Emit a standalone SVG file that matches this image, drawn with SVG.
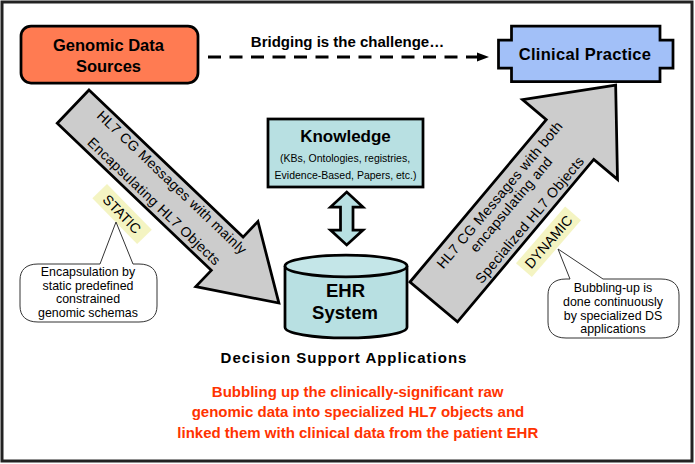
<svg xmlns="http://www.w3.org/2000/svg" width="695" height="464" viewBox="0 0 695 464">
<defs>
<style>
text{font-family:"Liberation Sans",Arial,sans-serif;fill:#000}
.b{font-weight:bold}
.mid{text-anchor:middle}
.shape{stroke:#000;stroke-width:2.75;stroke-linejoin:miter}
.teal{fill:#B8E0E2}
.big{fill:#CCCCCC;stroke:#000;stroke-width:2.75;stroke-linejoin:miter}
.arrowtxt{font-size:14px;letter-spacing:0.35px}
.tag{fill:#F4F4C2}
.call{fill:#fff;stroke:#333;stroke-width:1}
.calltxt{font-size:12.4px}
.red{fill:#FF3300;font-size:15px;font-weight:bold}
</style>
</defs>
<rect x="0" y="0" width="695" height="464" fill="#fff"/>
<rect x="2" y="2" width="690" height="459" fill="#fff" stroke="#222" stroke-width="3"/>

<g id="connectors">
<g id="bridge">
<line x1="208" y1="57" x2="477" y2="57" stroke="#000" stroke-width="2.8" stroke-dasharray="13 8.5"/>
<path d="M477,52.5 L489,57 L477,61.5 Z" fill="#000"/>
<text class="b mid" x="347.5" y="47" font-size="15">Bridging is the challenge…</text>
</g>
<g id="knowledge-ehr">
<path class="shape teal" d="M346.7,192 L363,207 L353,207 L353,230 L363,230 L346.7,245 L330.5,230 L340.5,230 L340.5,207 L330.5,207 Z"/>
</g>
<g id="arrow-static" transform="translate(89,90) rotate(43.67)">
<path class="big" d="M0,0 L213,0 L213,-21.5 L284.5,23 L213,68.5 L213,46 L0,46 Z"/>
<text class="arrowtxt mid" x="124" y="14.5">HL7 CG Messages with mainly</text>
<text class="arrowtxt mid" x="124" y="40.5">Encapsulating HL7 Objects</text>
</g>
<g id="arrow-dynamic" transform="translate(410,282) rotate(-50)">
<path class="big" d="M0,0 L212,0 L212,-31 L283,31 L212,93 L212,62 L0,62 Z"/>
<text class="arrowtxt mid" x="124.5" y="17.5">HL7 CG Messages with both</text>
<text class="arrowtxt mid" x="124.5" y="32.5">encapsulating and</text>
<text class="arrowtxt mid" x="124.5" y="56.5">Specialized HL7 Objects</text>
</g>
</g>

<g id="genomic">
<rect class="shape" x="21" y="26" width="177" height="57" rx="10" ry="10" fill="#FF7B52"/>
<text class="b mid" x="108.5" y="50.7" font-size="16.5">Genomic Data</text>
<text class="b mid" x="108.5" y="71.7" font-size="16.5">Sources</text>
</g>

<g id="clinical">
<path class="shape" fill="#A2C0F8" d="M511.5,26 L660,26 L660,40 L673,40 L673,68 L660,68 L660,81.5 L511.5,81.5 L511.5,68 L498.5,68 L498.5,40 L511.5,40 Z"/>
<text class="b mid" x="585" y="59.5" font-size="16.5" letter-spacing="0.3">Clinical Practice</text>
</g>

<g id="knowledge">
<rect class="shape teal" x="268" y="119" width="155" height="68"/>
<text class="b mid" x="345.5" y="141.7" font-size="17">Knowledge</text>
<text class="mid" x="345" y="161.7" font-size="10.5">(KBs, Ontologies, registries,</text>
<text class="mid" x="345.5" y="179.3" font-size="10.5">Evidence-Based, Papers, etc.)</text>
</g>

<g id="ehr">
<path class="shape teal" d="M285,266 L285,327.2 A61,10.8 0 0 0 407,327.2 L407,266"/>
<ellipse class="shape" cx="346" cy="266" rx="61" ry="10.8" fill="#C4E6E8"/>
<text class="b mid" x="345.5" y="297" font-size="18.5">EHR</text>
<text class="b mid" x="345" y="319.3" font-size="18.5">System</text>
</g>

<g id="static-tag" transform="translate(107,184) rotate(45.6)">
<rect class="tag" x="0" y="0" width="64" height="20.5"/>
<text class="mid" x="32" y="15.3" font-size="14">STATIC</text>
</g>

<g id="dynamic-tag" transform="translate(516,263.3) rotate(-49.1)">
<rect class="tag" x="0" y="0" width="75" height="21"/>
<text class="mid" x="37.5" y="15.5" font-size="14">DYNAMIC</text>
</g>

<g id="static-note">
<path class="call" d="M38,264 L100,264 L116,222 L133,264 L139,264 C151,264 157,270 157,280 L157,306 C157,316 151,322 139,322 L38,322 C26,322 20,316 20,306 L20,280 C20,270 26,264 38,264 Z"/>
<text class="calltxt mid" x="88" y="276">Encapsulation by</text>
<text class="calltxt mid" x="88" y="289.5">static predefined</text>
<text class="calltxt mid" x="88" y="303">constrained</text>
<text class="calltxt mid" x="88" y="316.5">genomic schemas</text>
</g>

<g id="dynamic-note">
<path class="call" d="M566,279 L570,279 L558,249 L603,279 L661,279 C673,279 679,285 679,295 L679,322 C679,332 673,338 661,338 L566,338 C554,338 548,332 548,322 L548,295 C548,285 554,279 566,279 Z"/>
<text class="calltxt mid" x="613" y="292.3">Bubbling-up is</text>
<text class="calltxt mid" x="613" y="306">done continuously</text>
<text class="calltxt mid" x="613" y="319.7">by specialized DS</text>
<text class="calltxt mid" x="613" y="333.3">applications</text>
</g>

<g id="captions">
<text class="b mid" x="344" y="363.3" font-size="15" letter-spacing="1">Decision Support Applications</text>
<text class="red mid" x="357.7" y="396.7">Bubbling up the clinically-significant raw</text>
<text class="red mid" x="358" y="417.3">genomic data into specialized HL7 objects and</text>
<text class="red mid" x="357.8" y="438.3">linked them with clinical data from the patient EHR</text>
</g>
</svg>
